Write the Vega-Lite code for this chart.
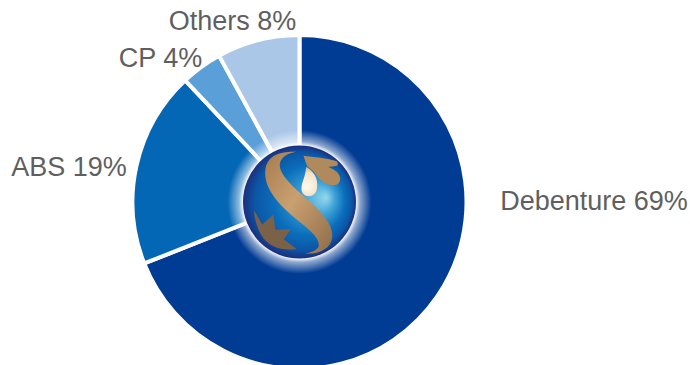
{
  "$schema": "https://vega.github.io/schema/vega-lite/v6.json",
  "width": 599,
  "height": 326,
  "autosize": "none",
  "padding": {"left": 0, "top": 39, "right": 91, "bottom": 0},
  "background": "white",
  "config": {"view": {"stroke": null}},
  "data": {
    "values": [
      {"segment": "Debenture", "share": 69, "rank": 1},
      {"segment": "ABS", "share": 19, "rank": 2},
      {"segment": "CP", "share": 4, "rank": 3},
      {"segment": "Others", "share": 8, "rank": 4}
    ]
  },
  "layer": [
    {
      "mark": {"type": "arc", "radius": 167, "stroke": "white", "strokeWidth": 4},
      "encoding": {
        "theta": {"field": "share", "type": "quantitative", "stack": true},
        "order": {"field": "rank", "type": "quantitative"},
        "color": {
          "field": "segment",
          "type": "nominal",
          "legend": null,
          "scale": {
            "domain": ["Debenture", "ABS", "CP", "Others"],
            "range": ["#003B94", "#0467B5", "#5A9FD8", "#ABC7E7"]
          }
        }
      }
    },
    {
      "transform": [{"filter": "datum.segment === 'Debenture'"}],
      "mark": {"type": "text", "font": "Liberation Sans", "fontSize": 27, "color": "#5F5F5F", "dx": 294.5, "dy": 0},
      "encoding": {"text": {"value": "Debenture 69%"}}
    },
    {
      "transform": [{"filter": "datum.segment === 'ABS'"}],
      "mark": {"type": "text", "font": "Liberation Sans", "fontSize": 27, "color": "#5F5F5F", "dx": -230.5, "dy": -34},
      "encoding": {"text": {"value": "ABS 19%"}}
    },
    {
      "transform": [{"filter": "datum.segment === 'CP'"}],
      "mark": {"type": "text", "font": "Liberation Sans", "fontSize": 27, "color": "#5F5F5F", "dx": -139, "dy": -143},
      "encoding": {"text": {"value": "CP 4%"}}
    },
    {
      "transform": [{"filter": "datum.segment === 'Others'"}],
      "mark": {"type": "text", "font": "Liberation Sans", "fontSize": 27, "color": "#5F5F5F", "dx": -67, "dy": -180},
      "encoding": {"text": {"value": "Others 8%"}}
    },
    {
      "data": {"values": [{"part": "halo"}]},
      "mark": {
        "type": "arc", "radius": 72, "theta": 0, "theta2": 6.2832,
        "fill": {
          "gradient": "radial", "x1": 0.5, "y1": 0.5, "r1": 0, "x2": 0.5, "y2": 0.5, "r2": 0.5,
          "stops": [
            {"offset": 0, "color": "rgba(255,255,255,1)"},
            {"offset": 0.78, "color": "rgba(255,255,255,1)"},
            {"offset": 0.84, "color": "rgba(255,255,255,0.55)"},
            {"offset": 1, "color": "rgba(255,255,255,0)"}
          ]
        }
      },
      "encoding": {}
    },
    {
      "data": {"values": [{"part": "globe"}]},
      "mark": {
        "type": "arc", "radius": 56.5, "theta": 0, "theta2": 6.2832,
        "fill": {
          "gradient": "radial", "x1": 0.74, "y1": 0.46, "r1": 0, "x2": 0.5, "y2": 0.5, "r2": 0.5,
          "stops": [
            {"offset": 0, "color": "#93D8EA"},
            {"offset": 0.28, "color": "#3FA3D8"},
            {"offset": 0.62, "color": "#0B6EBB"},
            {"offset": 0.86, "color": "#0B56A6"},
            {"offset": 1, "color": "#1B2F7C"}
          ]
        }
      },
      "encoding": {}
    },
    {
      "data": {"values": [{"part": "swoosh"}]},
      "mark": {
        "type": "point", "filled": true, "size": 12769, "opacity": 1,
        "shape": "M-.06 -.89C-.3 -.9 -.55 -.85 -.6 -.6C-.65 -.3 -.45 -.02 -.05 .31C.2 .5 .36 .65 .34 .78C.32 .85 .2 .9 .1 .91C.3 .93 .57 .85 .58 .6C.59 .4 .4 .17 .01 -.16C-.25 -.4 -.42 -.6 -.32 -.75C-.25 -.85 -.15 -.87 -.06 -.89Z",
        "fill": {
          "gradient": "linear", "x1": 0, "y1": 0, "x2": 1, "y2": 1,
          "stops": [
            {"offset": 0, "color": "#A67C4E"},
            {"offset": 0.45, "color": "#C9A070"},
            {"offset": 1, "color": "#8E6C4A"}
          ]
        }
      },
      "encoding": {}
    },
    {
      "data": {"values": [{"part": "crest"}]},
      "mark": {
        "type": "point", "filled": true, "size": 12769, "opacity": 1, "fill": "#B08A5C",
        "shape": "M.07 -.82C.25 -.8 .5 -.78 .66 -.72Q.7 -.66 .66 -.64L.51 -.62Q.7 -.55 .72 -.42Q.72 -.31 .62 -.3Q.48 -.28 .34 -.42L.25 -.54L.14 -.63Q.1 -.72 .07 -.82Z"
      },
      "encoding": {}
    },
    {
      "data": {"values": [{"part": "droplet"}]},
      "mark": {
        "type": "point", "filled": true, "size": 12769, "opacity": 1,
        "shape": "M.12 -.62C.3 -.52 .34 -.35 .3 -.2C.26 -.08 .08 -.06 .04 -.19C.01 -.3 .1 -.42 .12 -.62Z",
        "fill": {
          "gradient": "radial", "x1": 0.4, "y1": 0.7, "r1": 0, "x2": 0.5, "y2": 0.5, "r2": 0.7,
          "stops": [
            {"offset": 0, "color": "#FFFBF0"},
            {"offset": 0.55, "color": "#F3E2C8"},
            {"offset": 1, "color": "#B08A5C"}
          ]
        }
      },
      "encoding": {}
    },
    {
      "data": {"values": [{"part": "leaf"}]},
      "mark": {
        "type": "point", "filled": true, "size": 12769, "opacity": 1, "fill": "#7C6149",
        "shape": "M-.81 .14L-.66 .4L-.46 .22L-.43 .49L-.15 .48L-.28 .66L-.05 .83Q-.25 .86 -.4 .81Q-.55 .75 -.64 .64Q-.78 .45 -.81 .14Z"
      },
      "encoding": {}
    }
  ]
}
